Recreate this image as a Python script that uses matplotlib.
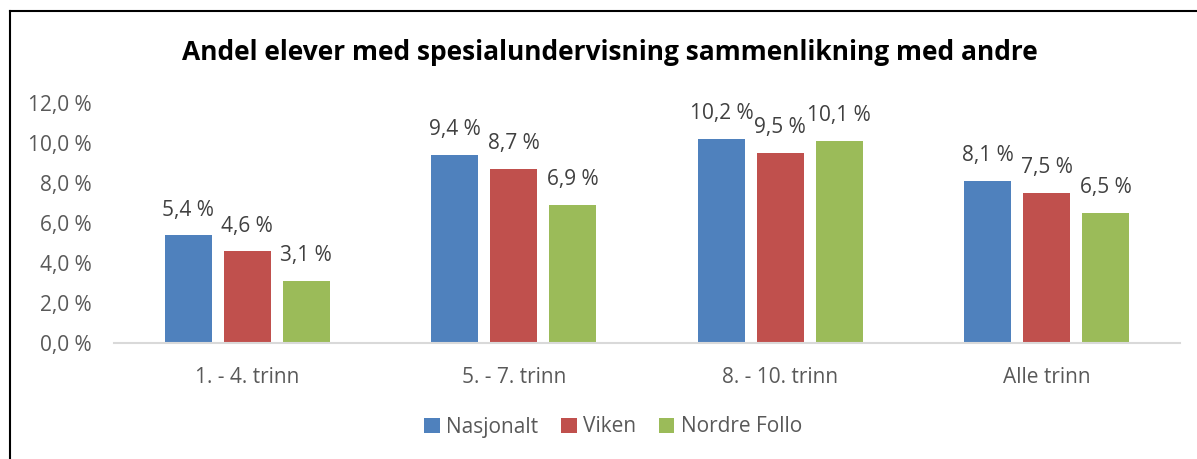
import matplotlib
matplotlib.use("Agg")
import matplotlib.pyplot as plt
import numpy as np
from matplotlib.lines import Line2D

categories = ["1. - 4. trinn", "5. - 7. trinn", "8. - 10. trinn", "Alle trinn"]
series_names = ["Nasjonalt", "Viken", "Nordre Follo"]
nasjonalt = [5.4, 9.4, 10.2, 8.1]
viken = [4.6, 8.7, 9.5, 7.5]
nordre_follo = [3.1, 6.9, 10.1, 6.5]
colors = ["#4F81BD", "#C0504D", "#9BBB59"]
yticks = [0, 2, 4, 6, 8, 10, 12]

plt.rcParams['font.family'] = ['Open Sans', 'DejaVu Sans']
txt = "#595959"
fs = 15

fig = plt.figure(figsize=(11.97, 4.59), dpi=100)
W, H = 1197, 459
ax = fig.add_axes([114 / W, 1 - 343 / H, (1180 - 114) / W, (343 - 103) / H])

x = np.arange(len(categories))
bw = 0.176
step = 0.221
data = [nasjonalt, viken, nordre_follo]
for i, (vals, c, name) in enumerate(zip(data, colors, series_names)):
    pos = x + (i - 1) * step
    bars = ax.bar(pos, vals, width=bw, color=c, label=name, zorder=2)
    for b, v in zip(bars, vals):
        ax.annotate(f"{v:.1f} %".replace(".", ","), (b.get_x() + b.get_width() / 2, v),
                    xytext=(0, 18), textcoords="offset points",
                    ha="center", va="center", fontsize=fs, color="#404040")

ax.set_xlim(-0.5, len(categories) - 0.5)
ax.set_ylim(0, 12)
ax.set_yticks(yticks)
ax.set_yticklabels([f"{t:.1f} %".replace(".", ",") for t in yticks], fontsize=fs, color=txt)
ax.set_xticks(x)
ax.set_xticklabels(categories, fontsize=fs, color=txt)
ax.tick_params(axis="y", length=0, pad=16)
ax.tick_params(axis="x", length=0, pad=17)
for s in ["top", "right", "left"]:
    ax.spines[s].set_visible(False)
ax.spines["bottom"].set_color("#D9D9D9")
ax.spines["bottom"].set_linewidth(1.5)

fig.text(610 / W, 1 - 53 / H, "Andel elever med spesialundervisning sammenlikning med andre",
         ha="center", va="center", fontsize=19, fontweight="bold", color="black")

leg = fig.legend(loc="center", bbox_to_anchor=(613 / W, 1 - 427 / H), ncol=3, frameon=False,
                 fontsize=fs, handlelength=0.75, handleheight=0.75, handletextpad=0.3,
                 columnspacing=1.1)
for t in leg.get_texts():
    t.set_color(txt)

# outer frame (left and top visible)
fig.add_artist(Line2D([9.5 / W, 9.5 / W], [0, 1 - 11 / H], transform=fig.transFigure, color="black", lw=1.5))
fig.add_artist(Line2D([9.5 / W, 1], [1 - 11 / H, 1 - 11 / H], transform=fig.transFigure, color="black", lw=1.5))

fig.savefig("out.png", dpi=100)
